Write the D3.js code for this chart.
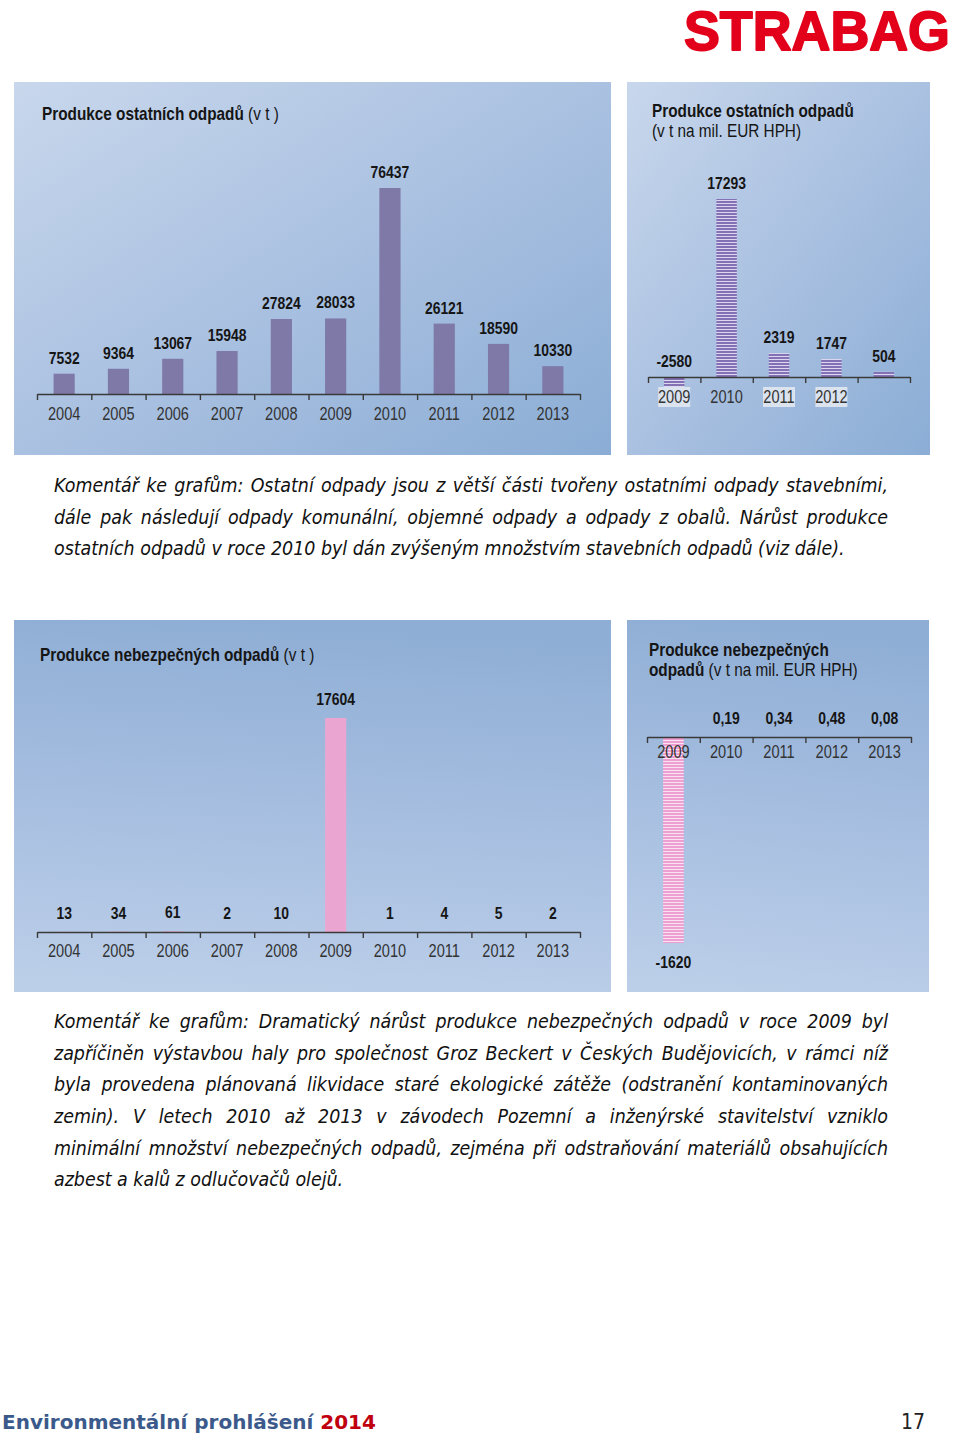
<!DOCTYPE html>
<html><head><meta charset="utf-8">
<script src="https://cdn.jsdelivr.net/npm/d3@7"></script>
<style>
body{margin:0;background:#fff;}
#wrap{position:relative;width:960px;height:1433px;overflow:hidden;background:#fff;}
svg{position:absolute;left:0;top:0;}
.ttl{font-family:"Liberation Sans",Arial,sans-serif;font-size:18.7px;fill:#151515;}
.yr{font-family:"Liberation Sans",Arial,sans-serif;font-size:17.8px;fill:#333;}
.val{font-family:"Liberation Sans",Arial,sans-serif;font-size:17px;font-weight:bold;fill:#151515;}
.para{position:absolute;left:54px;width:834px;font-family:"DejaVu Sans Condensed","DejaVu Sans",sans-serif;font-style:italic;font-size:19.4px;color:#111;}
.para div{height:31.7px;line-height:31.7px;white-space:nowrap;}
.para div.j{text-align:justify;text-align-last:justify;}
</style></head>
<body><div id="wrap"></div>
<script>
// ---------- data ----------
const yearsAll = ["2004","2005","2006","2007","2008","2009","2010","2011","2012","2013"];
const otherWasteTotal = [7532, 9364, 13067, 15948, 27824, 28033, 76437, 26121, 18590, 10330];
const yearsHPH = ["2009","2010","2011","2012","2013"];
const otherWastePerHPH = [-2580, 17293, 2319, 1747, 504];
const otherWastePerHPHTicks = ["2009","2010","2011","2012",""];
const hazWasteTotal = [13, 34, 61, 2, 10, 17604, 1, 4, 5, 2];
const hazWastePerHPH = [-1620, 0.19, 0.34, 0.48, 0.08];
const hazWastePerHPHTicks = ["2009","2010","2011","2012","2013"];

const para1 = [
 "Komentář ke grafům: Ostatní odpady jsou z větší části tvořeny ostatními odpady stavebními,",
 "dále pak následují odpady komunální, objemné odpady a odpady z obalů. Nárůst produkce",
 "ostatních odpadů v roce 2010 byl dán zvýšeným množstvím stavebních odpadů (viz dále)."
];
const para2 = [
 "Komentář ke grafům: Dramatický nárůst produkce nebezpečných odpadů v roce 2009 byl",
 "zapříčiněn výstavbou haly pro společnost Groz Beckert v Českých Budějovicích, v rámci níž",
 "byla provedena plánovaná likvidace staré ekologické zátěže (odstranění kontaminovaných",
 "zemin). V letech 2010 až 2013 v závodech Pozemní a inženýrské stavitelství vzniklo",
 "minimální množství nebezpečných odpadů, zejména při odstraňování materiálů obsahujících",
 "azbest a kalů z odlučovačů olejů."
];

const NARROW = 0.82;
const czFmt = d3.formatLocale({decimal:",", thousands:"", grouping:[3], currency:["",""]}).format(".2f");
const fmt = v => Number.isInteger(v) ? String(v) : czFmt(v);

const wrap = d3.select("#wrap");
const svg = wrap.append("svg").attr("width",960).attr("height",1433);
const defs = svg.append("defs");

function lg(id, x1,y1,x2,y2, stops){
  const g = defs.append("linearGradient").attr("id",id).attr("x1",x1).attr("y1",y1).attr("x2",x2).attr("y2",y2);
  stops.forEach(s=>g.append("stop").attr("offset",s[0]).attr("stop-color",s[1]));
}
lg("gTop",0,0,1,1,[[0,"#c8d7ec"],[0.5,"#aac1e1"],[1,"#8badd5"]]);
lg("gBot",0.4,0,0.3,1,[[0,"#8faed5"],[0.5,"#a6bee0"],[1,"#bccfe9"]]);
function stripes(id, c1, c2){
  const p = defs.append("pattern").attr("id",id).attr("width",6).attr("height",3).attr("patternUnits","userSpaceOnUse");
  p.append("rect").attr("width",6).attr("height",3).attr("fill",c2);
  p.append("rect").attr("width",6).attr("height",2).attr("fill",c1);
}
stripes("sPurple","#8470b4","#ddd6ef");
stripes("sPink","#ee9fd2","#f9e3f2");

function chart(c){
  const g = svg.append("g");
  g.append("rect").attr("x",c.px).attr("y",c.py).attr("width",c.pw).attr("height",c.ph).attr("fill",`url(#${c.grad})`);
  c.title.forEach(line=>{
    const t = g.append("text").attr("class","ttl").attr("transform",`translate(${line.x},${line.y}) scale(${NARROW},1)`);
    line.parts.forEach(p=>t.append("tspan").attr("font-weight",p.b?"bold":"normal").text(p.t));
  });
  const x = d3.scaleBand().domain(c.cats).range(c.xr).paddingInner(0.61).paddingOuter(0.305);
  const y = d3.scaleLinear().domain(c.yd).range(c.yr);
  g.append("g").selectAll("rect").data(c.vals).join("rect")
    .attr("x",(d,i)=>x(c.cats[i])).attr("width",x.bandwidth())
    .attr("y",d=>Math.min(y(d),y(0))).attr("height",d=>Math.abs(y(d)-y(0)))
    .attr("fill",c.fill);
  if(c.boxes){
    g.append("g").selectAll("rect").data(c.boxes).join("rect")
      .attr("x",i=>x(c.cats[i])+x.bandwidth()/2-16).attr("y",c.yearY-16)
      .attr("width",32).attr("height",20).attr("fill","#dbe3ef");
  }
  const lin = d3.scaleLinear().domain([0,c.cats.length]).range(c.xr);
  g.append("g").attr("transform",`translate(0,${y(0)})`)
    .call(d3.axisBottom(lin).tickValues(d3.range(c.cats.length+1)).tickFormat("").tickSize(6).tickSizeOuter(0))
    .call(a=>a.selectAll("line,path").attr("stroke","#3a3a3a").attr("stroke-width",1.4));
  g.append("g").attr("transform",`translate(0,${c.yearY})`)
    .call(d3.axisBottom(x).tickSize(0).tickPadding(0).tickFormat((d,i)=>c.ticks[i]))
    .call(a=>{a.attr("font-family",null).attr("font-size",null);a.select(".domain").remove();
      a.selectAll("text").attr("y",0).attr("dy",0).attr("fill",null).attr("class","yr")
        .attr("transform",`scale(${NARROW},1)`);});
  g.append("g").selectAll("text").data(c.vals).join("text").attr("class","val")
    .attr("text-anchor","middle")
    .attr("transform",(d,i)=>{
      const tx = x(c.cats[i])+x.bandwidth()/2;
      const ty = d<0 && c.negBelow ? y(d)+c.negOff : Math.min(y(d),y(0))-c.off;
      return `translate(${tx},${ty}) scale(${NARROW},1)`;})
    .text(d=>fmt(d));
}

chart({px:14,py:82,pw:597,ph:373,grad:"gTop",
  title:[{x:42,y:120,parts:[{t:"Produkce ostatních odpadů ",b:true},{t:"(v t )"}]}],
  cats:yearsAll, vals:otherWasteTotal, ticks:yearsAll,
  xr:[37,580], yd:[0,76437], yr:[394,188], fill:"#7f79a8", yearY:420, off:10});

chart({px:627,py:82,pw:303,ph:373,grad:"gTop",
  title:[{x:652,y:117,parts:[{t:"Produkce ostatních odpadů",b:true}]},{x:652,y:137,parts:[{t:"(v t na mil. EUR HPH)"}]}],
  cats:yearsHPH, vals:otherWastePerHPH, ticks:otherWastePerHPHTicks, boxes:[0,2,3],
  xr:[648,910], yd:[0,17293], yr:[377,199], fill:"url(#sPurple)", yearY:403, off:10});

chart({px:14,py:620,pw:597,ph:372,grad:"gBot",
  title:[{x:40,y:661,parts:[{t:"Produkce nebezpečných odpadů ",b:true},{t:"(v t )"}]}],
  cats:yearsAll, vals:hazWasteTotal, ticks:yearsAll,
  xr:[37,580], yd:[0,17604], yr:[932,718], fill:"#eaa6d0", yearY:957, off:13});

chart({px:627,py:620,pw:302,ph:372,grad:"gBot",
  title:[{x:649,y:656,parts:[{t:"Produkce nebezpečných",b:true}]},{x:649,y:676,parts:[{t:"odpadů ",b:true},{t:"(v t na mil. EUR HPH)"}]}],
  cats:yearsHPH, vals:hazWastePerHPH, ticks:hazWastePerHPHTicks,
  xr:[647,911], yd:[-1620,0], yr:[943,737], fill:"url(#sPink)", yearY:758, off:13, negBelow:true, negOff:25});

// logo (scaled to its box so nothing overflows the page)
const logo = svg.append("text").attr("x",0).attr("y",0)
  .attr("font-family","Liberation Sans, Arial, sans-serif").attr("font-weight","bold").attr("font-size",55)
  .attr("fill","#e3001b").attr("stroke","#e3001b").attr("stroke-width",1.8).attr("stroke-linejoin","round").text("STRABAG");
const natW = logo.node().getComputedTextLength();
logo.attr("transform",`translate(684,50) scale(${266/natW},1)`);

// footer
const ft = svg.append("text").attr("x",2).attr("y",1429)
  .attr("font-family","DejaVu Sans, sans-serif").attr("font-weight","bold").attr("font-size",20).attr("fill","#3b5a8b");
ft.append("tspan").text("Environmentální prohlášení ");
ft.append("tspan").attr("fill","#c0000f").text("2014");
svg.append("text").attr("x",925).attr("y",1429).attr("text-anchor","end")
  .attr("font-family","DejaVu Sans Condensed, DejaVu Sans, sans-serif").attr("font-size",21).attr("fill","#222").text("17");

function para(lines, top){
  const p = wrap.append("div").attr("class","para").style("top",top+"px");
  p.selectAll("div").data(lines).join("div").attr("class",(d,i)=>i<lines.length-1?"j":null).text(d=>d);
}
para(para1, 470);
para(para2, 1006);
</script></body></html>
